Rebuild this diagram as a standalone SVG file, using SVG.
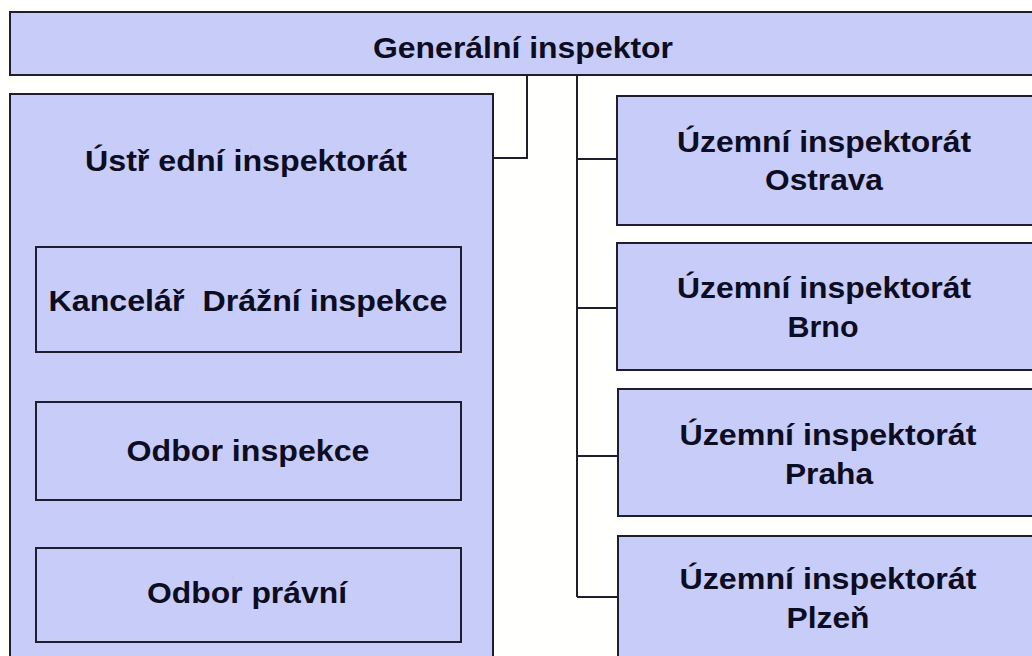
<svg xmlns="http://www.w3.org/2000/svg" width="1032" height="656" viewBox="0 0 1032 656">
<style>
.box{fill:#C8CCF8;stroke:#1E1E2E;stroke-width:2}
.conn{fill:none;stroke:#1E1E2E;stroke-width:2}
text{font-family:"Liberation Sans",Arial,sans-serif;font-weight:bold;font-size:30px;fill:#0C0C22;text-anchor:middle}
</style>
<rect x="0" y="0" width="1032" height="656" fill="#FFFFFD"/>
<g id="connectors">
<path class="conn" d="M493,158 H527 V75"/>
<path class="conn" d="M577,75 V597"/>
<path class="conn" d="M577,159 H617"/>
<path class="conn" d="M577,308 H617"/>
<path class="conn" d="M577,456 H617"/>
<path class="conn" d="M577,597 H617"/>
</g>
<g id="generalni">
<rect class="box" x="10" y="12" width="1040" height="63"/>
<text x="523" y="58" textLength="300" lengthAdjust="spacingAndGlyphs">Generální inspektor</text>
</g>
<g id="ustredni">
<rect class="box" x="10" y="94" width="483" height="580"/>
<text x="246" y="171" textLength="322" lengthAdjust="spacingAndGlyphs">Ústř ední inspektorát</text>
</g>
<g id="kancelar">
<rect class="box" x="36" y="247" width="425" height="105"/>
<text x="248" y="311" textLength="399" lengthAdjust="spacingAndGlyphs" xml:space="preserve">Kancelář  Drážní inspekce</text>
</g>
<g id="odbor-inspekce">
<rect class="box" x="36" y="402" width="425" height="98"/>
<text x="248" y="461" textLength="243" lengthAdjust="spacingAndGlyphs">Odbor inspekce</text>
</g>
<g id="odbor-pravni">
<rect class="box" x="36" y="548" width="425" height="94"/>
<text x="247" y="603" textLength="200" lengthAdjust="spacingAndGlyphs">Odbor právní</text>
</g>
<g id="ostrava">
<rect class="box" x="617" y="96" width="430" height="129"/>
<text x="824" y="152" textLength="294" lengthAdjust="spacingAndGlyphs">Územní inspektorát</text>
<text x="824" y="190" textLength="118" lengthAdjust="spacingAndGlyphs">Ostrava</text>
</g>
<g id="brno">
<rect class="box" x="617" y="243" width="430" height="127"/>
<text x="824" y="298" textLength="294" lengthAdjust="spacingAndGlyphs">Územní inspektorát</text>
<text x="823" y="337" textLength="71" lengthAdjust="spacingAndGlyphs">Brno</text>
</g>
<g id="praha">
<rect class="box" x="618" y="389" width="430" height="127"/>
<text x="828" y="445" textLength="297" lengthAdjust="spacingAndGlyphs">Územní inspektorát</text>
<text x="829" y="484" textLength="88" lengthAdjust="spacingAndGlyphs">Praha</text>
</g>
<g id="plzen">
<rect class="box" x="618" y="536" width="430" height="140"/>
<text x="828" y="589" textLength="297" lengthAdjust="spacingAndGlyphs">Územní inspektorát</text>
<text x="828" y="628" textLength="83" lengthAdjust="spacingAndGlyphs">Plzeň</text>
</g>
</svg>
